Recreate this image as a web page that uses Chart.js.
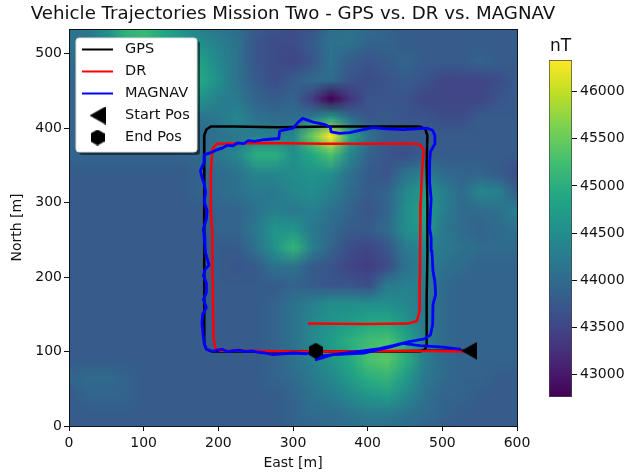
<!DOCTYPE html>
<html>
<head>
<meta charset="utf-8">
<title>Vehicle Trajectories Mission Two</title>
<script src="https://cdn.jsdelivr.net/npm/chart.js@4/dist/chart.umd.min.js"></script>
<style>
  html, body { margin: 0; padding: 0; background: #fff; }
  #wrap { position: relative; width: 631px; height: 475px; overflow: hidden; }
  #mapChart { position: absolute; left: 0; top: 0; }
  #barChart { position: absolute; left: 530px; top: 30px; }
</style>
</head>
<body>
<div id="wrap">
  <canvas id="mapChart" width="631" height="475"></canvas>
  <canvas id="barChart" width="101" height="380"></canvas>
</div>
<script>
// Axis ticks
const xTicks = [0, 100, 200, 300, 400, 500, 600];
const yTicks = [0, 100, 200, 300, 400, 500];
const barTicks = [43000, 43500, 44000, 44500, 45000, 45500, 46000];

// Magnetic field, in hundreds of nT
const fieldX = [0, 25, 50, 75, 100, 125, 150, 175, 200, 225, 250, 275, 300, 325, 350, 375, 400, 425, 450, 475, 500, 525, 550, 575, 600];
const fieldY = [540, 515, 490, 465, 440, 415, 390, 365, 340, 315, 290, 265, 240, 215, 190, 165, 140, 115, 90, 65, 40, 15, -10];
const fieldRows = [
  [441,442,446,451,452,449,445,442,441,440,438,437,436,437,440,441,440,439,438,438,438,438,438,438,438],
  [441,441,444,450,451,449,447,445,443,441,437,436,436,438,441,441,439,439,438,438,438,438,438,438,438],
  [440,441,442,444,446,447,447,448,444,441,437,436,435,437,441,438,437,438,439,438,438,438,439,438,438],
  [439,440,441,442,443,444,445,449,445,441,438,436,438,440,440,437,436,437,438,437,435,435,435,436,438],
  [439,439,440,441,441,442,443,446,443,442,439,438,439,434,427.5,433,437,437,437,435,435,435,435,437,438],
  [439,439,439,439,439,439,440,441,442,444,441,440,440,442,447,440,437,438,437,437,436,436,438,438,438],
  [439,439,439,439,439,439,439,440,441,442,443,443,444,455,465,449,441,438,438,438,438,438,438,438,438],
  [439,439,439,439,439,439,439,440,442,444,450,450,445,449,453,444,439,437,436,438,438,438,438,438,438],
  [438,438,438,438,438,438,438,439,440,441,444,444,445,446,445,441,438,437,441,443,440,439,439,438,436],
  [438,438,438,438,438,438,438,439,440,441,442,442,444,445,443,440,438,439,444,447,443,440,444,443,438],
  [438,438,438,438,438,438,438,438,439,439,441,443,442,443,441,439,437,439,445,448,443,440,440,441,443],
  [438,438,438,438,438,438,438,438,439,439,442,446,446,442,440,438,438,440,445,447,442,440,439,440,441],
  [438,438,438,438,438,438,438,438,438,438,441,446,451,443,439,436,435,437,442,444,442,441,440,440,440],
  [438,438,438,438,438,438,438,438,438,437,438,441,441,438,437,435,434,436,441,443,441,440,439,439,439],
  [438,438,438,438,438,438,438,438,438,438,438,438,439,438,437,437,436,442,443,443,440,439,439,439,439],
  [438,438,438,438,438,438,438,438,438,438,438,439,441,443,445,445,445,445,444,442,440,439,439,439,439],
  [438,438,438,438,438,438,438,438,438,438,438,439,441,444,446,447,449,449,446,442,440,439,439,439,439],
  [438,438,438,438,438,438,438,438,438,438,438,439,441,444,447,450,452,453,449,443,440,439,439,439,439],
  [438,438,438,438,438,438,438,438,438,438,438,439,441,443,446,449,453,454,450,443,440,439,439,439,439],
  [439,440,440,439,438,438,438,438,438,438,438,439,440,442,444,447,450,451,447,442,440,439,439,438,438],
  [438,439,439,439,438,438,438,438,438,438,438,438,439,441,442,444,446,447,444,441,439,439,438,438,438],
  [438,438,438,438,438,438,438,438,438,438,438,438,439,440,440,441,442,442,441,440,439,438,438,438,438],
  [438,438,438,438,438,438,438,438,438,438,438,438,439,439,440,440,440,440,440,439,438,438,438,438,438]
];

// Colour bar limits and colour map
const fieldMin = 42762;
const fieldMax = 46336;
const viridis = ["#440154", "#482475", "#414487", "#355f8d", "#2a788e", "#21918c", "#22a884", "#44bf70", "#7ad151", "#bddf26", "#fde725"];

// Trajectories
const gpsX = [536, 480, 420, 360, 330, 400, 470, 477, 479, 479, 480, 480, 479, 480, 477, 470, 420, 350, 280, 220, 190, 184, 181, 181, 182, 181, 181, 181, 184, 192, 260, 330];
const gpsY = [101, 101, 100, 100, 100, 100, 100, 103, 110, 170, 230, 300, 350, 390, 399, 402, 402, 402, 401, 402, 402, 398, 390, 330, 270, 200, 160, 110, 103, 100, 100, 100];

const drX = [536, 450, 380, 300, 240, 203, 196, 193.5, 192.5, 192, 190, 190, 192, 198, 260, 340, 420, 465, 471, 475, 473, 471, 470.5, 470, 469.5, 466, 454, 400, 320];
const drY = [100, 101, 100, 100, 101, 101, 104, 118, 200, 260, 288, 340, 372, 379, 380, 379, 379, 379, 377, 370, 345, 300, 266, 200, 154, 141, 137.5, 137, 137.5];

const magX = [525, 501, 470, 447, 430, 396, 354, 331, 340, 394, 416, 434, 454, 476, 484, 487, 487.5, 491, 490, 487.5, 486, 485, 483, 485, 483, 483, 484, 490, 490, 487, 479, 465, 447, 425, 407, 389, 376, 362.5, 351, 350, 342, 327, 313, 307, 300, 286, 282, 281, 268, 259, 248, 240, 234, 226, 219, 212, 205, 196, 190, 181, 181, 176, 178, 181, 183, 181, 185, 184, 180, 181, 182, 183, 187.5, 182, 180, 184, 184, 180, 184, 179, 178, 179.5, 181, 184, 192, 198, 205, 212, 219, 228, 237, 245, 254, 263, 272, 286, 301, 318, 330];
const magY = [103, 106, 108, 111, 106, 98, 96, 89, 94, 101, 104, 108, 113, 117, 122, 136, 163, 176.5, 194, 208, 235, 253, 266, 305, 327, 354, 368, 379, 390, 397, 400, 399, 398, 399, 400.5, 397, 394, 393, 395, 401, 405, 408, 413, 408, 400, 397, 396, 386, 385, 384, 382, 383, 379, 380, 376, 377, 373, 370, 367, 364, 354, 343, 334, 325, 314, 301, 289, 278, 265, 255, 244, 232.5, 216, 210, 202, 192, 179, 170, 159, 150, 138, 123, 111.5, 103, 100, 102, 103, 100, 101, 102, 100, 101, 99, 98, 96, 97, 98, 97, 100];

const startPos = { x: 536, y: 101 };
const endPos = { x: 330.4, y: 101 };

const toPoints = (xs, ys) => xs.map((x, i) => ({ x: x, y: ys[i] }));

function fieldColor(nT) {
  const t = Math.min(1, Math.max(0, (nT - fieldMin) / (fieldMax - fieldMin))) * (viridis.length - 1);
  const i = Math.min(viridis.length - 2, Math.floor(t));
  const f = t - i;
  const a = parseInt(viridis[i].slice(1), 16);
  const b = parseInt(viridis[i + 1].slice(1), 16);
  const mix = (shift) => Math.round(((a >> shift) & 255) * (1 - f) + ((b >> shift) & 255) * f);
  return [mix(16), mix(8), mix(0)];
}

// Small offscreen images used as point styles
function makeMarker(w, h, verts) {
  const c = document.createElement("canvas");
  c.width = w;
  c.height = h;
  const g = c.getContext("2d");
  g.fillStyle = "#000";
  g.beginPath();
  verts.forEach((v, i) => (i ? g.lineTo(v[0], v[1]) : g.moveTo(v[0], v[1])));
  g.closePath();
  g.fill();
  return c;
}
const startMarker = makeMarker(16, 18, [[0, 9], [16, 0], [16, 18]]);
const endMarker = makeMarker(14, 16, [[7, 0], [14, 4], [14, 12], [7, 16], [0, 12], [0, 4]]);

// Field image, stretched over the node positions by the chart's own scales
const fieldImage = document.createElement("canvas");
fieldImage.width = fieldX.length;
fieldImage.height = fieldY.length;
(function () {
  const g = fieldImage.getContext("2d");
  const img = g.createImageData(fieldX.length, fieldY.length);
  fieldRows.forEach((row, r) => row.forEach((v, c) => {
    const rgb = fieldColor(v * 100);
    const k = (r * fieldX.length + c) * 4;
    img.data[k] = rgb[0];
    img.data[k + 1] = rgb[1];
    img.data[k + 2] = rgb[2];
    img.data[k + 3] = 255;
  }));
  g.putImageData(img, 0, 0);
})();

const fieldPlugin = {
  id: "fieldPlugin",
  beforeDatasetsDraw(chart) {
    const { ctx, chartArea: a, scales } = chart;
    const dx = (fieldX[1] - fieldX[0]) / 2;
    const dy = (fieldY[0] - fieldY[1]) / 2;
    const left = scales.x.getPixelForValue(fieldX[0] - dx);
    const right = scales.x.getPixelForValue(fieldX[fieldX.length - 1] + dx);
    const top = scales.y.getPixelForValue(fieldY[0] + dy);
    const bottom = scales.y.getPixelForValue(fieldY[fieldY.length - 1] - dy);
    ctx.save();
    ctx.beginPath();
    ctx.rect(a.left, a.top, a.right - a.left, a.bottom - a.top);
    ctx.clip();
    ctx.imageSmoothingEnabled = true;
    ctx.imageSmoothingQuality = "low";
    ctx.drawImage(fieldImage, left, top, right - left, bottom - top);
    ctx.restore();
  },
  afterDatasetsDraw(chart) {
    const { ctx, chartArea: a } = chart;
    ctx.save();
    ctx.strokeStyle = "#111";
    ctx.lineWidth = 1;
    ctx.strokeRect(a.left + 0.5, a.top + 0.5, a.right - a.left, a.bottom - a.top);
    ctx.restore();
  }
};

// Title is centred on the axes but wider than them, the stock title would squeeze it
const titlePlugin = {
  id: "titlePlugin",
  afterDraw(chart) {
    const { ctx, chartArea: a } = chart;
    ctx.save();
    ctx.fillStyle = "#111";
    ctx.font = "18.2px 'DejaVu Sans'";
    ctx.textAlign = "center";
    ctx.textBaseline = "middle";
    ctx.fillText("Vehicle Trajectories Mission Two - GPS vs. DR vs. MAGNAV", (a.left + a.right) / 2, 14);
    ctx.restore();
  }
};

// Legend sits inside the axes, which the stock legend can't do
const legendPlugin = {
  id: "legendPlugin",
  afterDraw(chart) {
    const ctx = chart.ctx;
    const box = { x: 76, y: 38, w: 121, h: 114 };
    const rowY = [49.5, 71.5, 93.5, 115.5, 137.5];
    ctx.save();
    ctx.fillStyle = "rgba(0,0,0,0.5)";
    ctx.beginPath();
    ctx.roundRect(box.x + 3, box.y + 3, box.w, box.h, 3);
    ctx.fill();
    ctx.fillStyle = "#fff";
    ctx.strokeStyle = "#ddd";
    ctx.lineWidth = 1;
    ctx.beginPath();
    ctx.roundRect(box.x, box.y, box.w, box.h, 3);
    ctx.fill();
    ctx.stroke();
    ctx.font = "14.5px 'DejaVu Sans'";
    ctx.textBaseline = "middle";
    chart.data.datasets.forEach((ds, i) => {
      if (ds.showLine) {
        ctx.strokeStyle = ds.borderColor;
        ctx.lineWidth = 2;
        ctx.beginPath();
        ctx.moveTo(82, rowY[i]);
        ctx.lineTo(113, rowY[i]);
        ctx.stroke();
      } else {
        const m = ds.pointStyle;
        ctx.drawImage(m, 97.5 - m.width / 2, rowY[i] - m.height / 2);
      }
      ctx.fillStyle = "#111";
      ctx.fillText(ds.label, 125, rowY[i]);
    });
    ctx.restore();
  }
};

const tickFont = { family: "'DejaVu Sans'", size: 14 };

new Chart(document.getElementById("mapChart"), {
  type: "scatter",
  data: {
    datasets: [
      { label: "GPS", data: toPoints(gpsX, gpsY), showLine: true, borderColor: "#000", borderWidth: 2.5, pointRadius: 0, borderJoinStyle: "round", order: 4 },
      { label: "DR", data: toPoints(drX, drY), showLine: true, borderColor: "#ff0000", borderWidth: 2.5, pointRadius: 0, borderJoinStyle: "round", order: 3 },
      { label: "MAGNAV", data: toPoints(magX, magY), showLine: true, borderColor: "#0000ff", borderWidth: 2.8, pointRadius: 0, borderJoinStyle: "round", order: 2 },
      { label: "Start Pos", data: [startPos], showLine: false, pointStyle: startMarker, pointRadius: 9, order: 1 },
      { label: "End Pos", data: [endPos], showLine: false, pointStyle: endMarker, pointRadius: 8, order: 0 }
    ]
  },
  options: {
    responsive: false,
    animation: false,
    devicePixelRatio: 1,
    layout: { padding: { right: 114, left: 0, top: 29, bottom: 0 } },
    plugins: {
      legend: { display: false },
      tooltip: { enabled: false }
    },
    scales: {
      x: {
        type: "linear",
        min: 0,
        max: 600,
        afterBuildTicks: (s) => { s.ticks = xTicks.map((v) => ({ value: v })); },
        afterFit: (s) => { s.height = 49; },
        ticks: { color: "#111", font: tickFont, padding: 4, maxRotation: 0 },
        grid: { drawOnChartArea: false, tickLength: 5, tickColor: "#111" },
        border: { color: "#111" },
        title: { display: true, text: "East [m]", color: "#111", font: tickFont, padding: { top: 1, bottom: 3 } }
      },
      y: {
        type: "linear",
        min: 0,
        max: 533,
        afterBuildTicks: (s) => { s.ticks = yTicks.map((v) => ({ value: v })); },
        afterFit: (s) => { s.width = 69; },
        ticks: { color: "#111", font: tickFont, padding: 2 },
        grid: { drawOnChartArea: false, tickLength: 5, tickColor: "#111" },
        border: { color: "#111" },
        title: { display: true, text: "North [m]", color: "#111", font: tickFont, padding: { top: 8.6, bottom: 2 } }
      }
    }
  },
  plugins: [fieldPlugin, titlePlugin, legendPlugin]
});

// Colour bar: one floating bar filled with the colour map
new Chart(document.getElementById("barChart"), {
  type: "bar",
  data: {
    labels: ["nT"],
    datasets: [{
      data: [[fieldMin, fieldMax]],
      barPercentage: 1,
      categoryPercentage: 1,
      borderColor: "#444",
      borderWidth: 1,
      borderSkipped: false,
      backgroundColor: (c) => {
        const a = c.chart.chartArea;
        if (!a) return viridis[0];
        const g = c.chart.ctx.createLinearGradient(0, a.bottom, 0, a.top);
        viridis.forEach((col, i) => g.addColorStop(i / (viridis.length - 1), col));
        return g;
      }
    }]
  },
  options: {
    responsive: false,
    animation: false,
    devicePixelRatio: 1,
    layout: { padding: { left: 19, bottom: 13, right: 0, top: 0 } },
    plugins: {
      legend: { display: false },
      tooltip: { enabled: false },
      title: {
        display: true,
        fullSize: false,
        text: "nT",
        color: "#111",
        font: { family: "'DejaVu Sans'", size: 17, weight: "normal" },
        padding: { top: 6, bottom: 3.6 }
      }
    },
    scales: {
      x: { display: false },
      y: {
        position: "right",
        min: fieldMin,
        max: fieldMax,
        afterBuildTicks: (s) => { s.ticks = barTicks.map((v) => ({ value: v })); },
        afterFit: (s) => { s.width = 59; },
        ticks: { color: "#111", font: tickFont, padding: 3, callback: (v) => String(v) },
        grid: { drawOnChartArea: false, tickLength: 5, tickColor: "#111" },
        border: { display: false }
      }
    }
  }
});
</script>
</body>
</html>
